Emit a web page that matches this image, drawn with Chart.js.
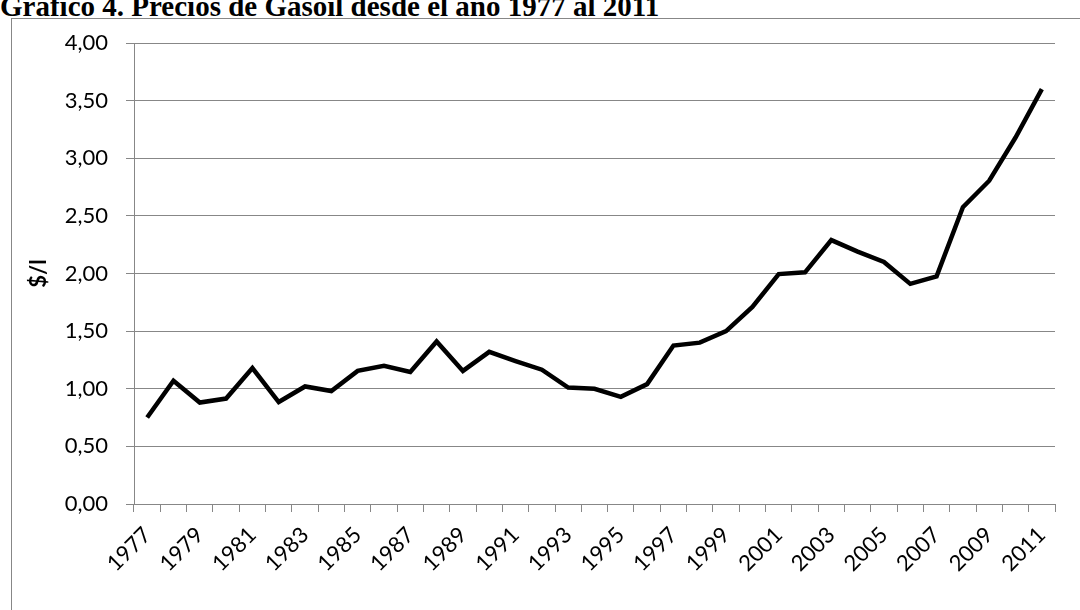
<!DOCTYPE html>
<html>
<head>
<meta charset="utf-8">
<script src="https://cdn.jsdelivr.net/npm/chart.js@4.4.1/dist/chart.umd.min.js"></script>
<style>
    html, body { margin: 0; padding: 0; background: #fff; overflow: hidden; }
    #wrap { position: relative; width: 1080px; height: 610px; }
    #marco {
        position: absolute; left: 11px; top: 18px;
        width: 1120px; height: 700px;
        border: 1px solid #878787; box-sizing: border-box;
    }
    #titulo {
        position: absolute; left: 0; top: -10px;
        font: bold 29px "Liberation Serif", "Times New Roman", serif;
        color: #000; white-space: nowrap;
    }
    canvas { position: absolute; left: 0; top: 0; }
</style>
</head>
<body>
<div id="wrap">
    <div id="marco"></div>
    <div id="titulo">Gráfico 4. Precios de Gasoil desde el año 1977 al 2011</div>
    <canvas id="graficoGasoil" width="1080" height="610"></canvas>
</div>
<script>
// años y precio del gasoil ($ por litro)
const years = [
    '1977', '1978', '1979', '1980', '1981', '1982', '1983', '1984', '1985',
    '1986', '1987', '1988', '1989', '1990', '1991', '1992', '1993', '1994',
    '1995', '1996', '1997', '1998', '1999', '2000', '2001', '2002', '2003',
    '2004', '2005', '2006', '2007', '2008', '2009', '2010', '2011'
];
const prices = [
    0.75, 1.07, 0.88, 0.915, 1.18, 0.885, 1.02, 0.98, 1.155,
    1.20, 1.145, 1.41, 1.155, 1.32, 1.24, 1.165, 1.01, 1.00,
    0.93, 1.04, 1.375, 1.40, 1.50, 1.71, 1.995, 2.01, 2.29,
    2.19, 2.10, 1.91, 1.975, 2.575, 2.805, 3.18, 3.60
];
const yMin = 0;
const yMax = 4;
const yStep = 0.5;

const gris = '#878787';
const fuenteEjes = { family: 'Lato, "Open Sans", sans-serif', size: 22 };

const ctx = document.getElementById('graficoGasoil').getContext('2d');
const grafico = new Chart(ctx, {
    type: 'line',
    data: {
        labels: years,
        datasets: [{
            label: 'Gasoil',
            data: prices,
            borderColor: '#000000',
            borderWidth: 4.5,
            pointRadius: 0,
            tension: 0,
            fill: false
        }]
    },
    options: {
        responsive: false,
        animation: false,
        layout: {
            padding: { top: 43, right: 25, bottom: 0, left: 18 }
        },
        plugins: {
            legend: { display: false },
            tooltip: { enabled: false }
        },
        scales: {
            x: {
                offset: true,
                grid: {
                    offset: true,
                    drawOnChartArea: false,
                    drawTicks: true,
                    tickLength: 8,
                    color: gris,
                    lineWidth: 1
                },
                border: { color: gris, width: 1 },
                ticks: {
                    autoSkip: false,
                    minRotation: 45,
                    maxRotation: 45,
                    padding: 10,
                    color: '#000',
                    font: fuenteEjes,
                    callback: function(value, index) {
                        return index % 2 === 0 ? years[index] : '';
                    }
                },
                afterFit: function(scale) {
                    scale.height = 106;
                }
            },
            y: {
                min: yMin,
                max: yMax,
                grid: {
                    color: gris,
                    lineWidth: 1,
                    drawTicks: true,
                    tickLength: 8
                },
                border: { color: gris, width: 1 },
                ticks: {
                    stepSize: yStep,
                    padding: 18,
                    color: '#000',
                    font: fuenteEjes,
                    callback: function(value) {
                        return value.toFixed(2).replace('.', ',');
                    }
                },
                title: {
                    display: true,
                    text: '$/l',
                    color: '#000',
                    padding: { top: 8, bottom: 0 },
                    font: { family: 'Lato, "Open Sans", sans-serif', size: 22, weight: 'bold' }
                },
                afterFit: function(scale) {
                    scale.width = 116;
                }
            }
        }
    }
});
</script>
</body>
</html>
